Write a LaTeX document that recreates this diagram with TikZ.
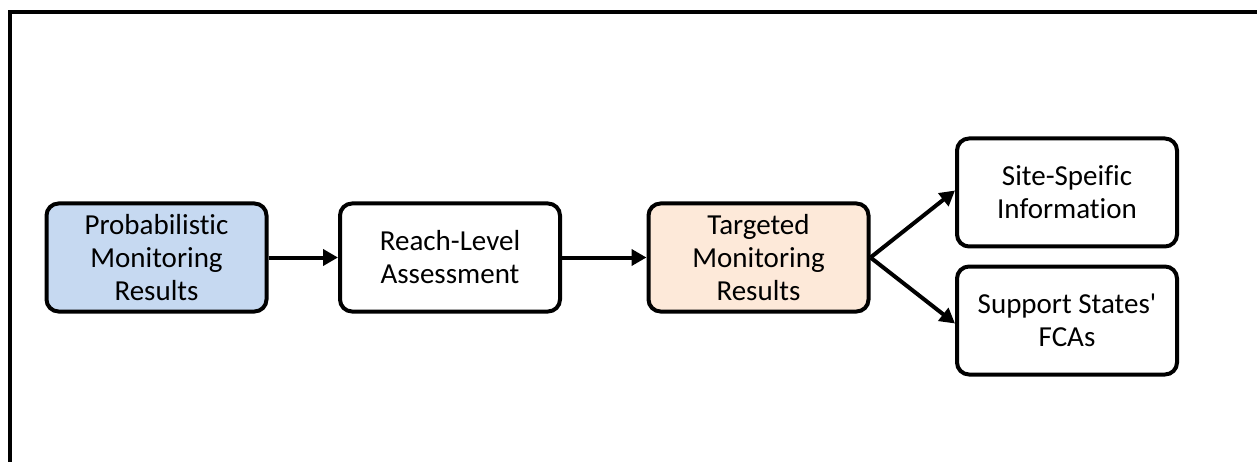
\documentclass[tikz,border=0pt]{standalone}
\usepackage{fontspec}
\setmainfont{Carlito}[RawFeature={-liga;-dlig;-clig}]
\usetikzlibrary{arrows.meta}
\definecolor{probblue}{HTML}{C6D9F1}
\definecolor{targpeach}{HTML}{FDE9D9}
\tikzset{
  flowbox/.style={draw=black, line width=4pt, rounded corners=12pt, fill=white,
    minimum width=220pt, minimum height=108pt, align=center, inner sep=2pt,
    font=\fontsize{29}{33}\selectfont},
  flowarrow/.style={line width=4pt, -{Triangle[length=15pt,width=16pt]}},
}
\begin{document}
\begin{tikzpicture}[x=1pt,y=-1pt]
  \useasboundingbox (0,0) rectangle (1257,462);
  \clip (0,0) rectangle (1257,462);
  % frame
  \draw[line width=4pt] (10,480) -- (10,12) -- (1280,12);
  % boxes
  \node[flowbox, fill=probblue] (prob) at (156.5,257.5) {Probabilistic\\Monitoring\\Results};
  \node[flowbox] (reach) at (450,257.5) {Reach-Level\\Assessment};
  \node[flowbox, fill=targpeach] (targ) at (758.5,257.5) {Targeted\\Monitoring\\Results};
  \node[flowbox] (site) at (1067,192.5) {Site-Speific\\Information};
  \node[flowbox] (supp) at (1067,320.5) {Support States\textquotesingle\\FCAs};
  % connectors
  \draw[flowarrow] (prob.east) -- (reach.west);
  \draw[flowarrow] (reach.east) -- (targ.west);
  \draw[flowarrow] (targ.east) -- ([yshift=2pt]site.west);
  \draw[flowarrow] (targ.east) -- ([yshift=-3pt]supp.west);
\end{tikzpicture}
\end{document}
